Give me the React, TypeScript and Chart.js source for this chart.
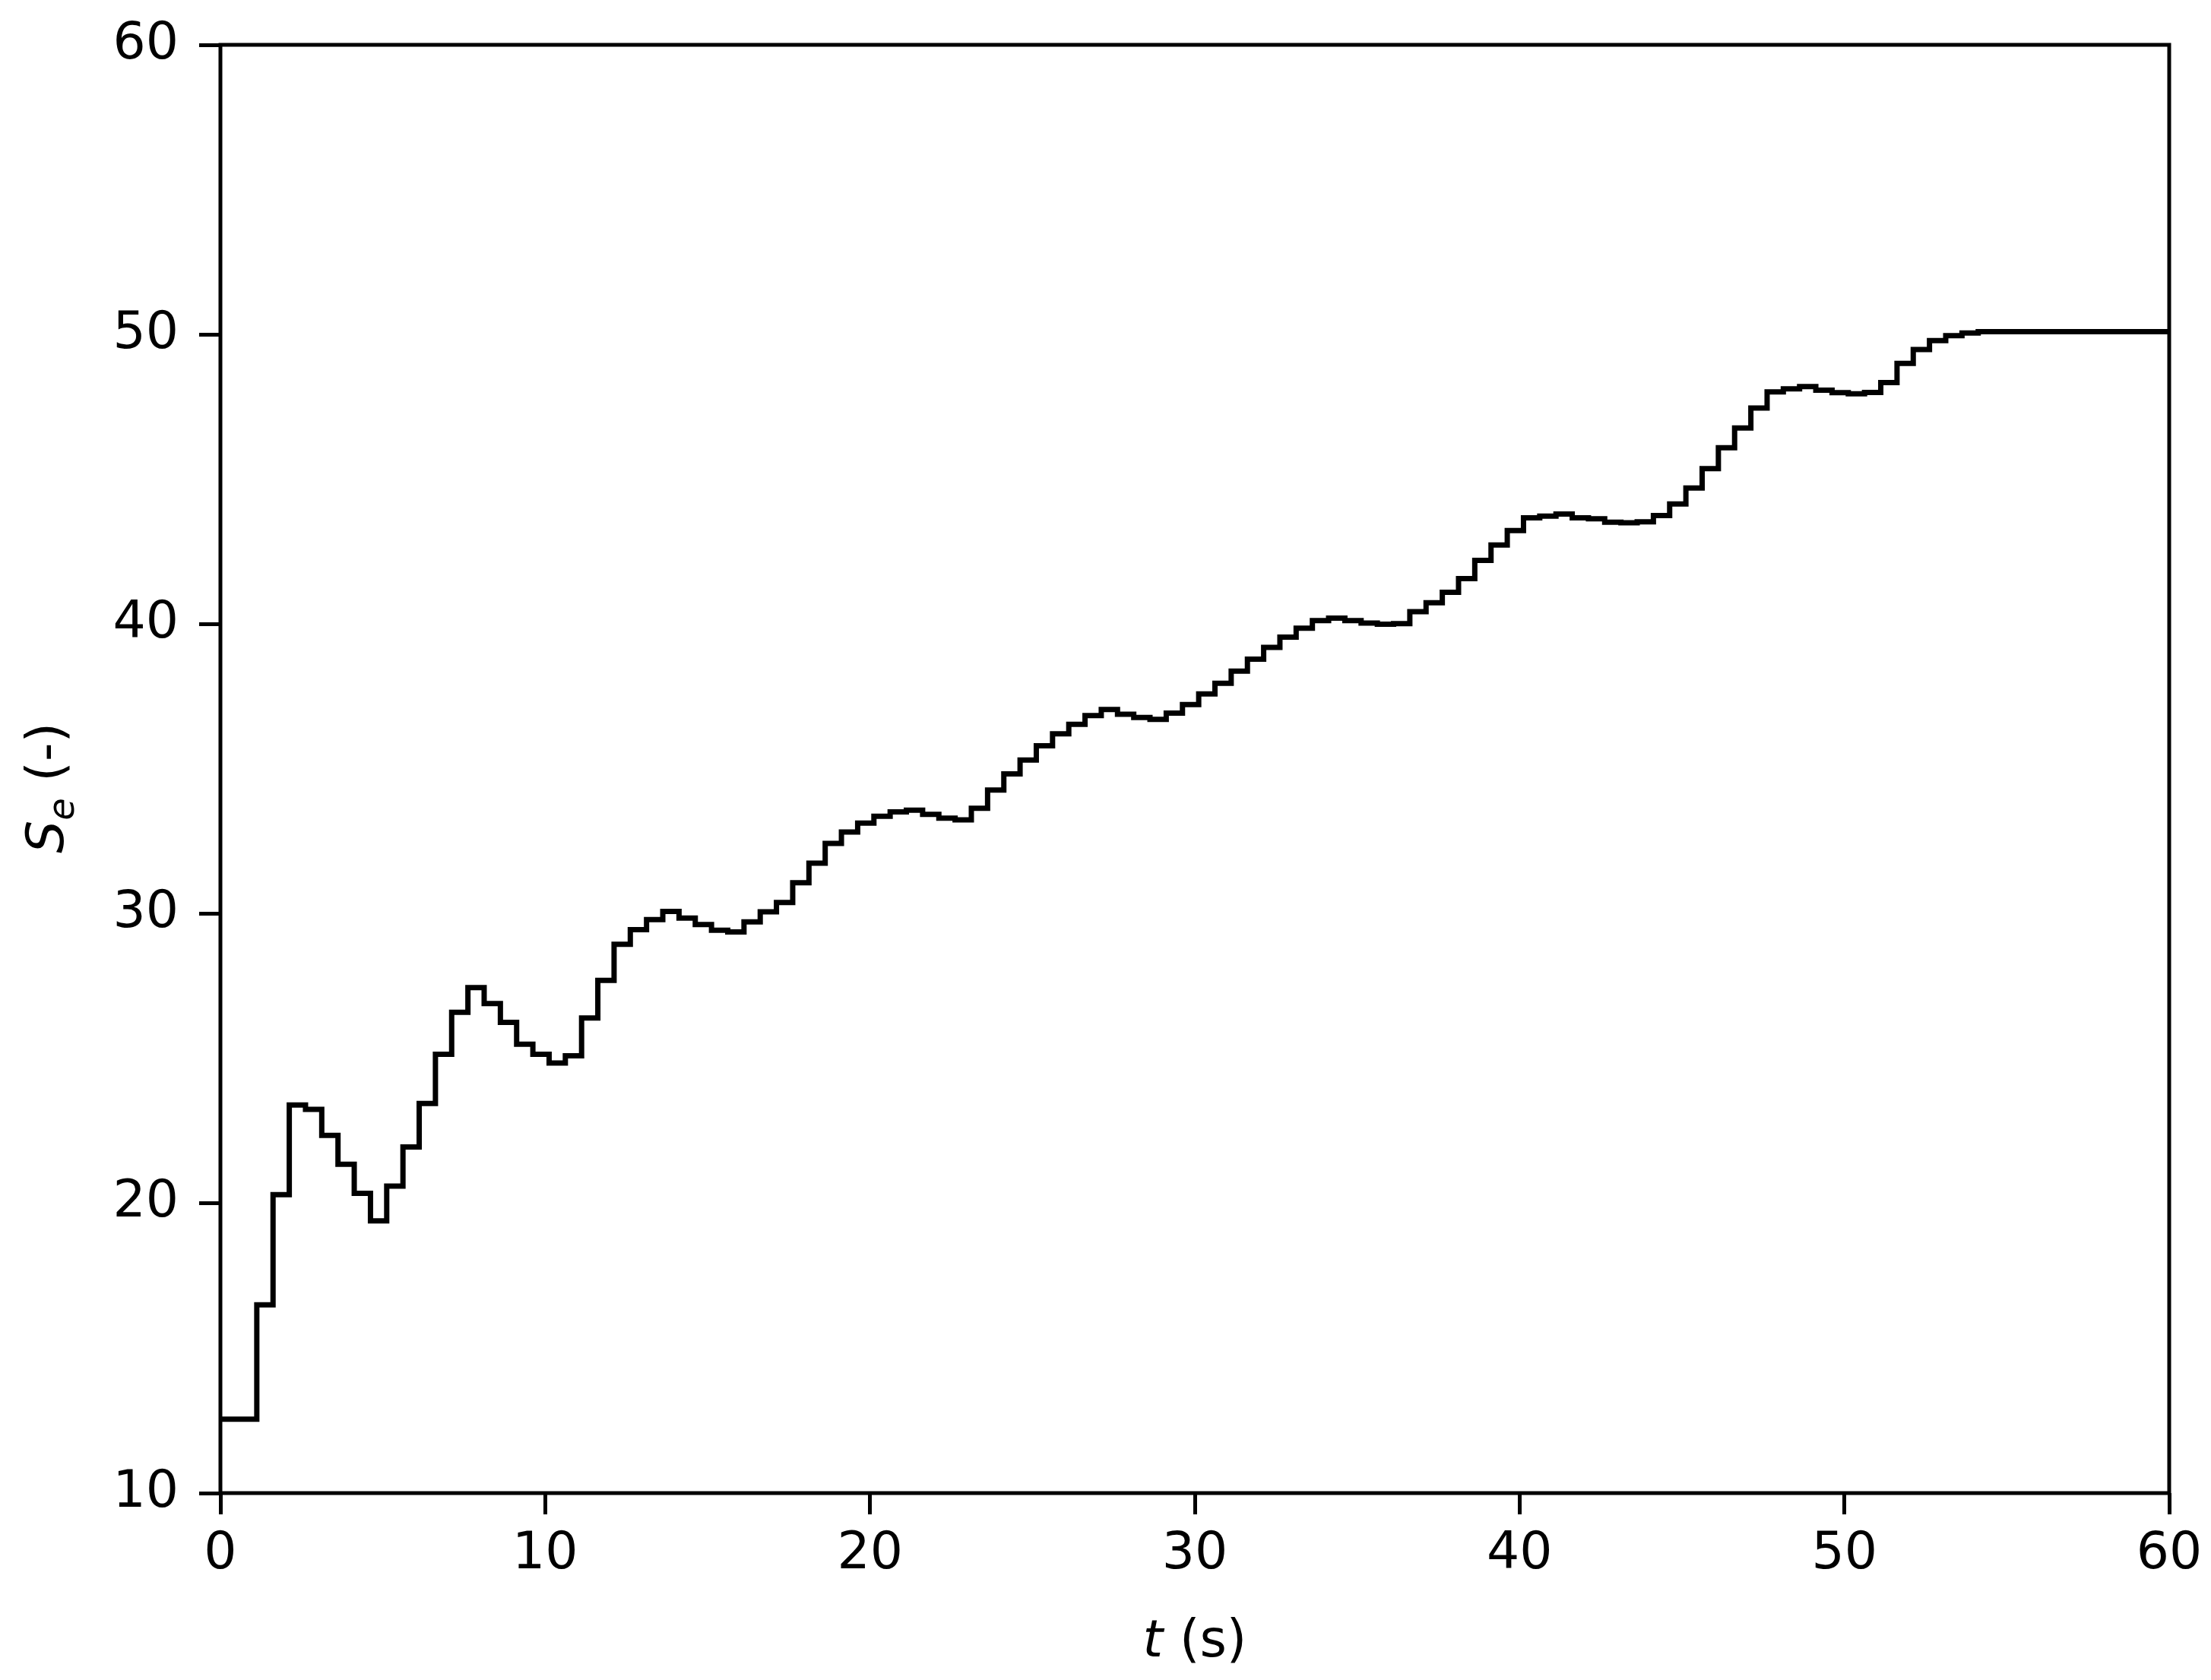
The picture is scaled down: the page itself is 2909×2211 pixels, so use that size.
import React, { useEffect, useRef } from "react";
import { Chart, registerables } from "chart.js";

Chart.register(...registerables);

// Step edge times (s) and the value of S_e that holds from each edge on
const stepTimes = [
  0, 1.12, 1.62, 2.12, 2.62, 3.12, 3.62, 4.12, 4.62, 5.12, 5.62, 6.12, 6.62, 7.12, 7.62, 8.12, 8.62, 9.12, 9.62,
  10.12, 10.62, 11.12, 11.62, 12.12, 12.62, 13.12, 13.62, 14.12, 14.62, 15.12, 15.62, 16.12, 16.62, 17.12, 17.62,
  18.12, 18.62, 19.12, 19.62, 20.12, 20.62, 21.12, 21.62, 22.12, 22.62, 23.12, 23.62, 24.12, 24.62, 25.12, 25.62,
  26.12, 26.62, 27.12, 27.62, 28.12, 28.62, 29.12, 29.62, 30.12, 30.62, 31.12, 31.62, 32.12, 32.62, 33.12, 33.62,
  34.12, 34.62, 35.12, 35.62, 36.12, 36.62, 37.12, 37.62, 38.12, 38.62, 39.12, 39.62, 40.12, 40.62, 41.12, 41.62,
  42.12, 42.62, 43.12, 43.62, 44.12, 44.62, 45.12, 45.62, 46.12, 46.62, 47.12, 47.62, 48.12, 48.62, 49.12, 49.62,
  50.12, 50.62, 51.12, 51.62, 52.12, 52.62, 53.12, 53.62, 54.12, 60,
];

const seValues = [
  12.55, 16.5, 20.3, 23.4, 23.25, 22.35, 21.35, 20.35, 19.4, 20.6, 21.95, 23.45, 25.15, 26.6, 27.45, 26.9, 26.25, 25.5, 25.15,
  24.85, 25.1, 26.4, 27.7, 28.95, 29.45, 29.8, 30.08, 29.85, 29.63, 29.43, 29.37, 29.72, 30.07, 30.39, 31.07,
  31.75, 32.43, 32.82, 33.13, 33.37, 33.52, 33.58, 33.43, 33.3, 33.24, 33.64, 34.27, 34.83, 35.31, 35.8, 36.21,
  36.54, 36.84, 37.05, 36.89, 36.78, 36.71, 36.93, 37.22, 37.59, 37.96, 38.38, 38.79, 39.2, 39.55, 39.86, 40.12,
  40.21, 40.12, 40.04, 40.0, 40.02, 40.43, 40.74, 41.1, 41.57, 42.2, 42.73, 43.23, 43.67, 43.73, 43.8, 43.67,
  43.64, 43.52, 43.5, 43.53, 43.75, 44.15, 44.7, 45.37, 46.09, 46.77, 47.46, 48.02, 48.12, 48.2, 48.08, 47.99,
  47.95, 48.0, 48.34, 49.0, 49.48, 49.79, 49.96, 50.05, 50.1, 50.1,
];

const xTicks = [0, 10, 20, 30, 40, 50, 60];
const yTicks = [10, 20, 30, 40, 50, 60];

const xTitleVar = "t";
const xTitleRest = " (s)";
const yTitleVar = "S";
const yTitleSub = "e";
const yTitleRest = " (-)";

const FONT = "DejaVu Sans";
const FS = 68;

const framePlugin = {
  id: "frameAndTitles",
  afterDraw(chart: any) {
    const ctx = chart.ctx as CanvasRenderingContext2D;
    const ca = chart.chartArea;
    ctx.save();
    // frame
    ctx.strokeStyle = "#000";
    ctx.lineWidth = 5;
    ctx.strokeRect(ca.left, ca.top, ca.right - ca.left, ca.bottom - ca.top);

    ctx.fillStyle = "#000";
    ctx.textBaseline = "alphabetic";
    ctx.textAlign = "left";
    const italic = `italic ${FS}px "${FONT}"`;
    const normal = `${FS}px "${FONT}"`;
    const subFont = `italic ${Math.round(FS * 0.7)}px "${FONT}"`;

    // x title
    ctx.font = italic;
    const w1 = ctx.measureText(xTitleVar).width;
    ctx.font = normal;
    const w2 = ctx.measureText(xTitleRest).width;
    const x = (ca.left + ca.right) / 2 - (w1 + w2) / 2;
    const y = ca.bottom + 215;
    ctx.font = italic;
    ctx.fillText(xTitleVar, x, y);
    ctx.font = normal;
    ctx.fillText(xTitleRest, x + w1, y);

    // y title (rotated)
    ctx.font = italic;
    const s1 = ctx.measureText(yTitleVar).width;
    ctx.font = subFont;
    const s2 = ctx.measureText(yTitleSub).width;
    ctx.font = normal;
    const s3 = ctx.measureText(yTitleRest).width;
    const total = s1 + s2 + s3;
    const cy = (ca.top + ca.bottom) / 2 + 25;
    ctx.translate(83, cy);
    ctx.rotate(-Math.PI / 2);
    let tx = -total / 2;
    ctx.font = italic;
    ctx.fillText(yTitleVar, tx, 0);
    tx += s1;
    ctx.font = subFont;
    ctx.fillText(yTitleSub, tx, 14);
    tx += s2;
    ctx.font = normal;
    ctx.fillText(yTitleRest, tx, 0);
    ctx.restore();
  },
};

export default function App() {
  const ref = useRef<HTMLCanvasElement | null>(null);

  useEffect(() => {
    if (!ref.current) return;
    const data = stepTimes.map((t, i) => ({ x: t, y: seValues[i] }));
    const chart = new Chart(ref.current, {
      type: "line",
      data: {
        datasets: [
          {
            data,
            borderColor: "#000",
            borderWidth: 7,
            stepped: "before",
            pointRadius: 0,
            fill: false,
            tension: 0,
            borderJoinStyle: "miter",
          } as any,
        ],
      },
      options: {
        responsive: false,
        animation: false,
        devicePixelRatio: 1,
        layout: { padding: { left: 0, top: 59, right: 55, bottom: 0 } },
        plugins: { legend: { display: false }, tooltip: { enabled: false }, title: { display: false } },
        scales: {
          x: {
            type: "linear",
            position: "bottom",
            min: 0,
            max: 60,
            afterBuildTicks: (s: any) => {
              s.ticks = xTicks.map((v) => ({ value: v }));
            },
            afterFit: (s: any) => {
              s.height = 246;
              s.paddingLeft = 0;
              s.paddingRight = 0;
            },
            ticks: {
              color: "#000",
              font: { family: FONT, size: FS },
              padding: 13,
              maxRotation: 0,
              autoSkip: false,
            },
            grid: {
              display: true,
              drawOnChartArea: false,
              drawTicks: true,
              tickLength: 28,
              tickWidth: 5,
              tickColor: "#000",
            },
            border: { display: false },
          },
          y: {
            type: "linear",
            position: "left",
            min: 10,
            max: 60,
            afterBuildTicks: (s: any) => {
              s.ticks = yTicks.map((v) => ({ value: v }));
            },
            afterFit: (s: any) => {
              s.width = 290;
              s.paddingTop = 0;
              s.paddingBottom = 0;
            },
            ticks: {
              color: "#000",
              font: { family: FONT, size: FS },
              padding: 27,
              autoSkip: false,
            },
            grid: {
              display: true,
              drawOnChartArea: false,
              drawTicks: true,
              tickLength: 28,
              tickWidth: 5,
              tickColor: "#000",
            },
            border: { display: false },
          },
        },
      } as any,
      plugins: [framePlugin],
    });
    return () => chart.destroy();
  }, []);

  return (
    <div style={{ position: "fixed", left: 0, top: 0, width: 2909, height: 2211, background: "#fff" }}>
      <canvas ref={ref} width={2909} height={2211} style={{ display: "block", width: 2909, height: 2211 }} />
    </div>
  );
}
